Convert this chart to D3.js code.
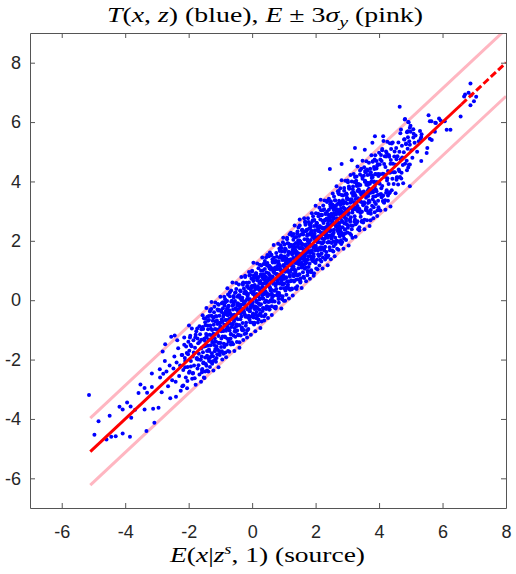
<!DOCTYPE html>
<html><head><meta charset="utf-8">
<script src="https://cdn.jsdelivr.net/npm/d3@7"></script>
<style>body{margin:0;background:#fff;} svg{display:block;}</style>
</head><body>
<script>
// ---- data ----
const xTicks = [-6,-4,-2,0,2,4,6,8];
const yTicks = [-6,-4,-2,0,2,4,6,8];
const xDomain = [-7, 8];
const yDomain = [-7, 9];
const meanLineX = [-5.1, 6.6, 8];      // solid to 6.6, dashed after
const band = 1.13;                      // 3 sigma_y
const bandLineX = [-5.1, 8];

const leftTail = [[-5.14,-3.19],[-4.84,-4.08],[-4.97,-4.53],[-4.49,-3.89],[-4.59,-4.69],[-4.44,-4.6],[-4.3,-4.58],[-4.08,-4.49],[-3.85,-4.6],[-4.18,-3.59],[-4.08,-3.68],[-3.94,-3.45],[-3.83,-3.58],[-3.81,-3.96],[-3.69,-3.69],[-3.33,-4.41],[-3.08,-4.13],[-3.58,-3.13],[-3.52,-2.84],[-3.39,-2.96],[-3.31,-3.12],[-3.39,-3.68],[-3.16,-2.92],[-3.16,-2.47],[-3.12,-3.66],[-2.95,-3.62],[-2.91,-2.33],[-2.8,-2.48],[-2.74,-1.48],[-2.82,-1.73],[-2.4,-3.25],[-2.55,-1.23],[-2.44,-1.19],[-2.9,-2.6],[-2.85,-3.1],[-2.7,-2.4],[-2.65,-2.9],[-2.6,-2.2],[-2.58,-3.3],[-2.52,-2.7],[-2.75,-2.05]];

const stripA = [[-2.48,-2.3],[-2.45,-1.9],[-2.41,-2.75],[-2.38,-2.1],[-2.33,-1.62],[-2.3,-2.55],[-2.27,-2.2],[-2.22,-1.85],[-2.2,-2.9],[-2.17,-2.35],[-2.14,-1.5],[-2.11,-2.05],[-2.09,-2.6],[-2.06,-1.78],[-2.03,-2.25],[-2.01,-1.4],[-2.36,-1.35],[-2.25,-3.05],[-2.12,-1.95],[-2.04,-2.72]];

const stripB = [[-1.98,-1.7],[-1.97,-2.4],[-1.95,-1.2],[-1.93,-2.05],[-1.91,-1.55],[-1.89,-2.65],[-1.87,-1.9],[-1.85,-1.35],[-1.83,-2.2],[-1.8,-1.6],[-1.78,-2.85],[-1.76,-1.05],[-1.74,-1.95],[-1.72,-2.3],[-1.7,-1.45],[-1.68,-1.8],[-1.66,-2.5],[-1.64,-1.15],[-1.62,-2.0],[-1.6,-1.62],[-1.58,-2.35],[-1.56,-0.9],[-1.55,-1.75],[-1.53,-2.1],[-1.51,-1.3],[-1.94,-1.5],[-1.86,-2.45],[-1.79,-1.25],[-1.71,-2.0],[-1.65,-1.4],[-1.59,-1.9],[-1.52,-2.6],[-1.99,-0.85],[-1.73,-0.95],[-1.61,-2.75]];

const stripC = [[-1.49,-1.37],[-1.48,-1.93],[-1.47,-0.84],[-1.46,-1.54],[-1.45,-1.14],[-1.44,-2.21],[-1.43,-1.21],[-1.42,-1.71],[-1.41,-0.56],[-1.4,-1.53],[-1.39,-0.98],[-1.38,-1.96],[-1.37,-1.32],[-1.36,-0.67],[-1.35,-1.71],[-1.34,-1.16],[-1.33,-2.25],[-1.32,-0.85],[-1.31,-1.52],[-1.3,-0.96],[-1.29,-1.33],[-1.28,-0.52],[-1.27,-1.79],[-1.26,-1.0],[-1.25,-1.42],[-1.24,-0.69],[-1.23,-1.89],[-1.22,-1.13],[-1.21,-0.83],[-1.2,-1.51],[-1.19,-0.22],[-1.18,-1.28],[-1.17,-0.97],[-1.16,-1.64],[-1.15,-0.54],[-1.14,-1.39],[-1.13,-0.99],[-1.12,-1.95],[-1.11,-0.68],[-1.1,-1.12],[-1.09,-0.8],[-1.08,-1.68],[-1.07,-0.35],[-1.06,-1.21],[-1.05,-0.98],[-1.04,-1.43],[-1.03,-0.52],[-1.02,-1.72],[-1.01,-0.77],[-1.475,-0.62],[-1.355,-2.05],[-1.285,-0.3],[-1.165,-2.0],[-1.055,-0.15],[-1.125,-1.55]];

const core0 = [[-1.0,-0.88],[-0.99,-1.44],[-0.98,-0.35],[-0.97,-1.05],[-0.96,-0.65],[-0.95,-1.72],[-0.94,-0.72],[-0.93,-1.22],[-0.92,-0.07],[-0.91,-1.04],[-0.9,-0.49],[-0.89,-1.47],[-0.88,-0.83],[-0.87,-0.18],[-0.86,-1.22],[-0.85,-0.67],[-0.84,-1.76],[-0.83,-0.36],[-0.82,-1.03],[-0.81,-0.47],[-0.8,-0.84],[-0.79,-0.03],[-0.78,-1.3],[-0.77,-0.51],[-0.76,-0.93],[-0.75,-0.2],[-0.74,-1.4],[-0.73,-0.64],[-0.72,-0.34],[-0.71,-1.02],[-0.7,0.27],[-0.69,-0.79],[-0.68,-0.48],[-0.67,-1.15],[-0.66,-0.05],[-0.65,-0.9],[-0.64,-0.5],[-0.63,-1.46],[-0.62,-0.19],[-0.61,-0.63],[-0.6,-0.31],[-0.59,-1.19],[-0.58,0.14],[-0.57,-0.72],[-0.56,-0.49],[-0.55,-0.94],[-0.54,-0.03],[-0.53,-1.23],[-0.52,-0.28],[-0.51,-0.57],[-0.5,0.38],[-0.49,-0.82],[-0.48,-0.32],[-0.47,-1.02],[-0.46,-0.1],[-0.45,-0.64],[-0.44,-0.4],[-0.43,0.16],[-0.42,-0.84],[-0.41,-0.14],[-0.4,-1.42],[-0.39,-0.28],[-0.38,0.07],[-0.37,-0.64],[-0.36,0.3],[-0.35,-0.44],[-0.34,-0.15],[-0.33,-0.97],[-0.32,0.01],[-0.31,-0.3],[-0.3,-0.77],[-0.29,0.52],[-0.28,-0.4],[-0.27,-0.04],[-0.26,-1.0],[-0.25,0.23],[-0.24,-0.47],[-0.23,-0.15],[-0.22,0.82],[-0.21,-0.56],[-0.2,-0.03],[-0.19,-0.76],[-0.18,0.21],[-0.17,-0.22],[-0.16,0.46],[-0.15,-1.01],[-0.14,0.14],[-0.13,-0.31],[-0.12,0.41],[-0.11,-0.52],[-0.1,0.03],[-0.09,0.83],[-0.08,-0.36],[-0.07,-0.01],[-0.06,-0.74],[-0.05,0.37],[-0.04,-0.15],[-0.03,0.27],[-0.02,-0.55],[-0.01,0.73]];

const core1 = [[0.0,0.97],[0.01,-0.09],[0.02,0.22],[0.03,-0.45],[0.04,0.65],[0.05,-0.2],[0.06,0.2],[0.07,-0.76],[0.08,0.51],[0.09,0.07],[0.1,0.39],[0.11,-0.49],[0.12,0.84],[0.13,-0.02],[0.14,0.21],[0.15,-0.24],[0.16,0.67],[0.17,-0.53],[0.18,0.42],[0.19,0.13],[0.2,1.08],[0.21,-0.12],[0.22,0.38],[0.23,-0.32],[0.24,0.6],[0.25,0.06],[0.26,0.3],[0.27,0.86],[0.28,-0.14],[0.29,0.56],[0.3,-0.72],[0.31,0.42],[0.32,0.77],[0.33,0.06],[0.34,1.0],[0.35,0.26],[0.36,0.55],[0.37,-0.27],[0.38,0.71],[0.39,0.4],[0.4,-0.07],[0.41,1.22],[0.42,0.3],[0.43,0.66],[0.44,-0.3],[0.45,0.93],[0.46,0.23],[0.47,0.55],[0.48,1.52],[0.49,0.14],[0.5,0.67],[0.51,-0.06],[0.52,0.91],[0.53,0.48],[0.54,1.16],[0.55,-0.31],[0.56,0.84],[0.57,0.39],[0.58,1.11],[0.59,0.18],[0.6,0.73],[0.61,1.53],[0.62,0.34],[0.63,0.69],[0.64,-0.04],[0.65,1.07],[0.66,0.55],[0.67,0.97],[0.68,0.15],[0.69,1.43],[0.7,0.69],[0.71,0.92],[0.72,-0.23],[0.73,1.1],[0.74,0.54],[0.75,1.32],[0.76,0.38],[0.77,0.87],[0.78,1.46],[0.79,0.17],[0.8,1.05],[0.81,0.67],[0.82,1.28],[0.83,0.04],[0.84,0.86],[0.85,1.2],[0.86,0.56],[0.87,1.66],[0.88,0.81],[0.89,1.04],[0.9,0.4],[0.91,1.51],[0.92,0.7],[0.93,0.96],[0.94,0.05],[0.95,1.35],[0.96,0.8],[0.97,1.95],[0.98,0.54],[0.99,1.18]];

const core1b = [[0.0,-0.12],[0.03,0.48],[0.05,-0.58],[0.08,0.16],[0.1,-0.21],[0.13,0.9],[0.15,-0.07],[0.18,0.47],[0.2,-0.65],[0.23,0.36],[0.25,-0.16],[0.28,0.86],[0.3,0.25],[0.33,-0.36],[0.35,0.71],[0.38,0.2],[0.4,1.32],[0.43,-0.04],[0.45,0.66],[0.48,0.14],[0.5,0.54],[0.53,-0.23],[0.55,1.07],[0.58,0.32],[0.6,0.77],[0.63,0.08],[0.65,1.31],[0.68,0.59],[0.7,0.32],[0.73,1.04],[0.75,-0.22],[0.78,0.88],[0.8,0.6],[0.83,1.31],[0.85,0.24],[0.88,1.13],[0.9,0.76],[0.93,1.76],[0.95,0.52],[0.98,1.0]];

const core2 = [[1.0,-0.02],[1.01,1.12],[1.02,1.47],[1.03,0.76],[1.04,1.7],[1.05,0.96],[1.06,1.25],[1.07,0.43],[1.08,1.41],[1.09,1.1],[1.1,0.63],[1.11,1.92],[1.12,1.0],[1.13,1.36],[1.14,0.4],[1.15,1.63],[1.16,0.93],[1.17,1.25],[1.18,2.22],[1.19,0.84],[1.2,1.37],[1.21,0.64],[1.22,1.61],[1.23,1.18],[1.24,1.86],[1.25,0.39],[1.26,1.54],[1.27,1.09],[1.28,1.81],[1.29,0.88],[1.3,1.43],[1.31,2.23],[1.32,1.04],[1.33,1.39],[1.34,0.66],[1.35,1.77],[1.36,1.25],[1.37,1.67],[1.38,0.85],[1.39,2.13],[1.4,1.39],[1.41,1.62],[1.42,0.47],[1.43,1.8],[1.44,1.24],[1.45,2.02],[1.46,1.08],[1.47,1.57],[1.48,2.16],[1.49,0.87],[1.5,1.75],[1.51,1.37],[1.52,1.98],[1.53,0.74],[1.54,1.56],[1.55,1.9],[1.56,1.26],[1.57,2.36],[1.58,1.51],[1.59,1.74],[1.6,1.1],[1.61,2.21],[1.62,1.4],[1.63,1.66],[1.64,0.75],[1.65,2.05],[1.66,1.5],[1.67,2.65],[1.68,1.24],[1.69,1.88],[1.7,1.82],[1.71,1.26],[1.72,2.35],[1.73,1.65],[1.74,2.05],[1.75,0.98],[1.76,1.98],[1.77,1.48],[1.78,2.63],[1.79,1.66],[1.8,2.21],[1.81,1.23],[1.82,1.87],[1.83,2.52],[1.84,1.48],[1.85,2.03],[1.86,0.94],[1.87,2.34],[1.88,1.67],[1.89,2.23],[1.9,1.86],[1.91,2.67],[1.92,1.4],[1.93,2.19],[1.94,1.77],[1.95,2.5],[1.96,1.3],[1.97,2.06],[1.98,2.36],[1.99,1.68]];

const core2b = [[1.0,0.71],[1.03,1.63],[1.05,0.33],[1.08,1.23],[1.1,1.03],[1.13,1.52],[1.15,0.64],[1.18,1.88],[1.2,0.96],[1.23,1.29],[1.25,0.37],[1.28,1.61],[1.3,1.14],[1.33,1.88],[1.35,0.99],[1.38,1.57],[1.4,1.36],[1.43,0.84],[1.45,1.87],[1.48,1.21],[1.5,2.52],[1.53,1.42],[1.55,1.1],[1.58,1.85],[1.6,0.94],[1.63,1.72],[1.65,1.46],[1.68,2.32],[1.7,1.37],[1.73,1.72],[1.75,2.22],[1.78,0.97],[1.8,1.92],[1.83,1.6],[1.85,2.59],[1.88,1.4],[1.9,2.13],[1.93,1.85],[1.95,0.91],[1.98,2.33]];

const core3 = [[2.0,2.13],[2.01,2.93],[2.02,1.74],[2.03,2.09],[2.04,1.36],[2.05,2.47],[2.06,1.95],[2.07,2.37],[2.08,1.55],[2.09,2.83],[2.1,2.09],[2.11,2.32],[2.12,1.17],[2.13,2.5],[2.14,1.94],[2.15,2.72],[2.16,1.78],[2.17,2.27],[2.18,2.86],[2.19,1.57],[2.2,2.45],[2.21,2.07],[2.22,2.68],[2.23,1.44],[2.24,2.26],[2.25,2.6],[2.26,1.96],[2.27,3.06],[2.28,2.21],[2.29,2.44],[2.3,1.8],[2.31,2.91],[2.32,2.1],[2.33,2.36],[2.34,1.45],[2.35,2.75],[2.36,2.2],[2.37,3.35],[2.38,1.94],[2.39,2.58],[2.4,2.52],[2.41,1.96],[2.42,3.05],[2.43,2.35],[2.44,2.75],[2.45,1.68],[2.46,2.68],[2.47,2.18],[2.48,3.33],[2.49,2.36],[2.5,2.91],[2.51,1.93],[2.52,2.57],[2.53,3.22],[2.54,2.18],[2.55,2.73],[2.56,1.64],[2.57,3.04],[2.58,2.37],[2.59,2.93],[2.6,2.56],[2.61,3.37],[2.62,2.1],[2.63,2.89],[2.64,2.47],[2.65,3.2],[2.66,2.0],[2.67,2.76],[2.68,3.06],[2.69,2.38],[2.7,3.67],[2.71,2.61],[2.72,2.92],[2.73,2.25],[2.74,3.35],[2.75,2.5],[2.76,2.9],[2.77,1.94],[2.78,3.21],[2.79,2.77],[2.8,3.09],[2.81,2.21],[2.82,3.54],[2.83,2.68],[2.84,2.91],[2.85,2.46],[2.86,3.37],[2.87,2.17],[2.88,3.12],[2.89,2.83],[2.9,3.78],[2.91,2.58],[2.92,3.08],[2.93,2.38],[2.94,3.3],[2.95,2.76],[2.96,3.0],[2.97,3.56],[2.98,2.56],[2.99,3.26]];

const core3b = [[2.0,1.83],[2.03,2.6],[2.07,1.68],[2.1,2.15],[2.13,1.51],[2.17,3.03],[2.2,1.92],[2.23,2.41],[2.27,1.74],[2.3,2.71],[2.33,2.2],[2.37,1.45],[2.4,2.68],[2.43,2.37],[2.47,3.15],[2.5,2.08],[2.53,2.64],[2.57,2.27],[2.6,3.13],[2.63,1.89],[2.67,2.68],[2.7,2.49],[2.73,3.68],[2.77,2.4],[2.8,3.0],[2.83,2.26],[2.87,3.25],[2.9,2.8],[2.93,2.25],[2.97,3.59]];

const core4a = [[3.0,3.41],[3.02,2.44],[3.04,3.09],[3.06,3.75],[3.08,2.72],[3.1,3.28],[3.12,2.2],[3.14,3.61],[3.16,2.95],[3.18,3.52],[3.2,3.16],[3.22,3.98],[3.24,2.72],[3.26,3.52],[3.28,3.11],[3.3,3.85],[3.32,2.66],[3.34,3.43],[3.36,3.74],[3.38,3.07],[3.4,4.37],[3.42,3.32],[3.44,3.64],[3.46,2.98],[3.48,4.09],[3.5,3.25],[3.52,3.66],[3.54,2.71],[3.56,3.99],[3.58,3.56],[3.6,3.89],[3.62,3.02],[3.64,4.36],[3.66,3.51],[3.68,3.75],[3.7,3.31],[3.72,4.23],[3.74,3.04],[3.76,4.0],[3.78,3.72],[3.8,4.68],[3.82,3.49],[3.84,4.0],[3.86,3.31],[3.88,4.24],[3.9,3.71],[3.92,3.96],[3.94,4.53],[3.96,3.54],[3.98,4.25]];

const core4b = [[3.01,4.03],[3.05,2.94],[3.09,2.64],[3.13,3.4],[3.17,2.51],[3.21,3.3],[3.25,3.06],[3.29,3.93],[3.33,3.0],[3.37,3.36],[3.41,3.88],[3.45,2.64],[3.49,3.61],[3.53,3.3],[3.57,4.31],[3.61,3.13],[3.65,3.88],[3.69,3.61],[3.73,2.69],[3.77,4.12],[3.81,3.64],[3.85,4.42],[3.89,3.5],[3.93,3.98],[3.97,3.35]];

const core5 = [[4.0,4.97],[4.02,3.92],[4.04,4.24],[4.06,3.58],[4.08,4.69],[4.1,3.85],[4.12,4.26],[4.14,3.31],[4.16,4.59],[4.18,4.16],[4.2,4.49],[4.22,3.62],[4.24,4.96],[4.26,4.11],[4.28,4.35],[4.3,3.91],[4.32,4.83],[4.34,3.64],[4.36,4.6],[4.38,4.32],[4.4,5.28],[4.42,4.09],[4.44,4.6],[4.46,3.91],[4.48,4.84],[4.5,4.31],[4.52,4.56],[4.54,5.13],[4.56,4.14],[4.58,4.85]];

const wideSpread = [[-1.6,-0.98],[-1.58,-2.43],[-1.56,-0.51],[-1.54,-2.12],[-1.52,-0.61],[-1.5,-2.62],[-1.48,-0.74],[-1.46,-2.15],[-1.44,-0.26],[-1.42,-2.37],[-1.4,-0.85],[-1.38,-2.4],[-1.36,-0.53],[-1.34,-1.95],[-1.32,-0.33],[-1.3,-2.08],[-1.28,-0.06],[-1.26,-2.14],[-1.24,-0.57],[-1.22,-2.37],[-1.2,-0.41],[-1.18,-1.72],[-1.16,-0.08],[-1.14,-2.07],[-1.12,-0.54],[-1.1,-1.82],[-1.08,-0.13],[-1.06,-2.26],[-1.04,-0.33],[-1.02,-1.85],[-1.0,0.12],[-0.98,-1.58],[-0.96,-0.1],[-0.94,-2.0],[-0.92,-0.27],[-0.9,-1.8],[-0.88,0.12],[-0.86,-1.52],[-0.84,-0.07],[-0.82,-1.92],
[-0.8,-1.49],[-0.78,0.4],[-0.76,-1.71],[-0.74,-0.19],[-0.72,-1.74],[-0.7,0.13],[-0.68,-1.29],[-0.66,0.33],[-0.64,-1.42],[-0.62,0.6],[-0.6,-1.48],[-0.58,0.09],[-0.56,-1.71],[-0.54,0.25],[-0.52,-1.06],[-0.5,0.58],[-0.48,-1.41],[-0.46,0.12],[-0.44,-1.16],[-0.42,0.53],[-0.4,-1.6],[-0.38,0.33],[-0.36,-1.19],[-0.34,0.78],[-0.32,-0.92],[-0.3,0.56],[-0.28,-1.34],[-0.26,0.39],[-0.24,-1.14],[-0.22,0.78],[-0.2,-0.86],[-0.18,0.59],[-0.16,-1.26],[-0.14,0.48],[-0.12,-0.97],[-0.1,0.95],[-0.08,-0.66],[-0.06,0.85],[-0.04,-1.16],[-0.02,0.72],
[0.0,0.99],[0.02,-0.76],[0.04,1.26],[0.06,-0.82],[0.08,0.75],[0.1,-1.05],[0.12,0.91],[0.14,-0.4],[0.16,1.24],[0.18,-0.75],[0.2,0.78],[0.22,-0.5],[0.24,1.19],[0.26,-0.94],[0.28,0.99],[0.3,-0.53],[0.32,1.44],[0.34,-0.26],[0.36,1.22],[0.38,-0.68],[0.4,1.05],[0.42,-0.48],[0.44,1.44],[0.46,-0.2],[0.48,1.25],[0.5,-0.6],[0.52,1.14],[0.54,-0.31],[0.56,1.61],[0.58,0.0],[0.6,1.51],[0.62,-0.5],[0.64,1.38],[0.66,-0.03],[0.68,1.86],[0.7,-0.25],[0.72,1.27],[0.74,-0.28],[0.76,1.59],[0.78,0.17],
[0.8,0.26],[0.82,1.9],[0.84,-0.09],[0.86,1.44],[0.88,0.16],[0.9,1.85],[0.92,-0.28],[0.94,1.65],[0.96,0.13],[0.98,2.1],[1.0,0.4],[1.02,1.88],[1.04,-0.02],[1.06,1.71],[1.08,0.18],[1.1,2.1],[1.12,0.46],[1.14,1.91],[1.16,0.06],[1.18,1.8],[1.2,0.35],[1.22,2.27],[1.24,0.66],[1.26,2.17],[1.28,0.16],[1.3,2.04],[1.32,0.63],[1.34,2.52],[1.36,0.41],[1.38,1.93],[1.4,0.38],[1.42,2.25],[1.44,0.83],[1.46,2.45],[1.48,0.7],[1.5,2.72],[1.52,0.64],[1.54,2.21],[1.56,0.41],[1.58,2.37],
[1.6,2.31],[1.62,0.79],[1.64,2.76],[1.66,1.06],[1.68,2.54],[1.7,0.64],[1.72,2.37],[1.74,0.84],[1.76,2.76],[1.78,1.12],[1.8,2.57],[1.82,0.72],[1.84,2.46],[1.86,1.01],[1.88,2.93],[1.9,1.32],[1.92,2.83],[1.94,0.82],[1.96,2.7],[1.98,1.29],[2.0,3.18],[2.02,1.07],[2.04,2.59],[2.06,1.04],[2.08,2.91],[2.1,1.49],[2.12,3.11],[2.14,1.36],[2.16,3.38],[2.18,1.3],[2.2,2.87],[2.22,1.07],[2.24,3.03],[2.26,1.72],[2.28,3.36],[2.3,1.37],[2.32,2.9],[2.34,1.62],[2.36,3.31],[2.38,1.18],
[2.4,1.5],[2.42,3.42],[2.44,1.78],[2.46,3.23],[2.48,1.38],[2.5,3.12],[2.52,1.67],[2.54,3.59],[2.56,1.98],[2.58,3.49],[2.6,1.48],[2.62,3.36],[2.64,1.95],[2.66,3.84],[2.68,1.73],[2.7,3.25],[2.72,1.7],[2.74,3.57],[2.76,2.15],[2.78,3.77],[2.8,2.02],[2.82,4.04],[2.84,1.96],[2.86,3.53],[2.88,1.73],[2.9,3.69],[2.92,2.38],[2.94,4.02],[2.96,2.03],[2.98,3.56],[3.0,2.28],[3.02,3.97],[3.04,1.84],[3.06,3.77],[3.08,2.25],[3.1,4.22],[3.12,2.52],[3.14,4.0],[3.16,2.1],[3.18,3.83],
[3.2,4.25],[3.22,2.64],[3.24,4.15],[3.26,2.14],[3.28,4.02],[3.3,2.61],[3.32,4.5],[3.34,2.39],[3.36,3.91],[3.38,2.36],[3.4,4.23],[3.42,2.81],[3.44,4.43],[3.46,2.68],[3.48,4.7],[3.5,2.62],[3.52,4.19],[3.54,2.39],[3.56,4.35],[3.58,3.04],[3.6,4.68],[3.62,2.69],[3.64,4.22],[3.66,2.94],[3.68,4.63],[3.7,2.5],[3.72,4.43],[3.74,2.91],[3.76,4.88],[3.78,3.18],[3.8,4.66],[3.82,2.76],[3.84,4.49],[3.86,2.96],[3.88,4.88],[3.9,3.24],[3.92,4.69],[3.94,2.84],[3.96,4.58],[3.98,3.13],
[4.0,3.05],[4.02,4.57],[4.04,3.02],[4.06,4.89],[4.08,3.47],[4.1,5.09],[4.12,3.34],[4.14,5.36],[4.16,3.28],[4.18,4.85],[4.2,3.05],[4.22,5.01],[4.24,3.7],[4.26,5.34],[4.28,3.35],[4.3,4.88],[4.32,3.6],[4.34,5.29],[4.36,3.16],[4.38,5.09]];

const midSpread = [[-1.0,-0.95],[-0.97,-1.29],[-0.94,-0.73],[-0.91,-1.03],[-0.88,-0.44],[-0.85,-1.25],[-0.82,-0.67],[-0.79,-0.81],[-0.76,-0.4],[-0.73,-0.98],[-0.7,-0.42],[-0.67,-1.14],[-0.64,-0.54],[-0.61,-0.79],[-0.58,-0.09],[-0.55,-0.63],[-0.52,-0.28],[-0.49,-0.85],[-0.46,-0.15],[-0.43,-0.43],[-0.4,-0.84],[-0.37,-0.19],[-0.34,-0.55],[-0.31,0.08],[-0.28,-0.33],[-0.25,-0.12],[-0.22,-0.51],[-0.19,0.27],[-0.16,-0.3],[-0.13,0.21],
[-0.1,-0.57],[-0.07,0.03],[-0.04,-0.22],[-0.01,0.48],[0.02,-0.06],[0.05,0.29],[0.08,-0.28],[0.11,0.42],[0.14,0.14],[0.17,-0.27],[0.2,0.38],[0.23,0.02],[0.26,0.65],[0.29,0.24],[0.32,0.45],[0.35,0.06],[0.38,0.84],[0.41,0.27],[0.44,0.78],[0.47,0.52],[0.5,0.18],[0.53,0.74],[0.56,0.44],[0.59,1.03],[0.62,0.22],[0.65,0.8],[0.68,0.66],[0.71,1.07],[0.74,0.49],[0.77,1.05],
[0.8,0.59],[0.83,1.22],[0.86,0.81],[0.89,1.02],[0.92,0.63],[0.95,1.41],[0.98,0.84],[1.01,1.35],[1.04,1.09],[1.07,0.75],[1.1,1.31],[1.13,1.01],[1.16,1.6],[1.19,0.79],[1.22,1.37],[1.25,1.23],[1.28,1.64],[1.31,1.06],[1.34,1.62],[1.37,0.9],[1.4,1.5],[1.43,1.25],[1.46,1.95],[1.49,1.41],[1.52,1.76],[1.55,1.19],[1.58,1.89],[1.61,1.61],[1.64,1.2],[1.67,1.85],
[1.7,1.58],[1.73,2.17],[1.76,1.36],[1.79,1.94],[1.82,1.8],[1.85,2.21],[1.88,1.63],[1.91,2.19],[1.94,1.47],[1.97,2.07],[2.0,1.82],[2.03,2.52],[2.06,1.98],[2.09,2.33],[2.12,1.76],[2.15,2.46],[2.18,2.18],[2.21,1.77],[2.24,2.42],[2.27,2.06],[2.3,2.69],[2.33,2.28],[2.36,2.49],[2.39,2.1],[2.42,2.88],[2.45,2.31],[2.48,2.82],[2.51,2.56],[2.54,2.22],[2.57,2.78],
[2.6,3.09],[2.63,2.55],[2.66,2.9],[2.69,2.33],[2.72,3.03],[2.75,2.75],[2.78,2.34],[2.81,2.99],[2.84,2.63],[2.87,3.26],[2.9,2.85],[2.93,3.06],[2.96,2.67],[2.99,3.45],[3.02,2.88],[3.05,3.39],[3.08,3.13],[3.11,2.79],[3.14,3.35],[3.17,3.05],[3.2,3.64],[3.23,2.83],[3.26,3.41],[3.29,3.27],[3.32,3.68],[3.35,3.1],[3.38,3.66],[3.41,2.94],[3.44,3.54],[3.47,3.29],
[3.5,3.63],[3.53,3.24],[3.56,4.02],[3.59,3.45],[3.62,3.96],[3.65,3.7],[3.68,3.36],[3.71,3.92],[3.74,3.62],[3.77,4.21],[3.8,3.4],[3.83,3.98],[3.86,3.84],[3.89,4.25],[3.92,3.67],[3.95,4.23]];

const extraSpread = [[-2.2,-1.85],[-2.17,-2.87],[-2.14,-1.26],[-2.11,-2.26],[-2.08,-1.56],[-2.05,-2.97],[-2.02,-1.82],[-1.99,-2.44],[-1.96,-1.26],[-1.93,-2.23],[-1.9,-0.95],[-1.87,-2.47],[-1.84,-1.76],[-1.81,-2.63],[-1.78,-1.16],[-1.75,-1.97],[-1.72,-1.29],[-1.69,-2.19],[-1.66,-0.88],[-1.63,-2.01],[-1.6,-1.33],[-1.57,-2.32],[-1.54,-0.97],[-1.51,-1.56],
[-1.48,-2.4],[-1.45,-1.25],[-1.42,-1.87],[-1.39,-0.69],[-1.36,-1.66],[-1.33,-0.38],[-1.3,-1.9],[-1.27,-1.19],[-1.24,-2.06],[-1.21,-0.59],[-1.18,-1.4],[-1.15,-0.72],[-1.12,-1.62],[-1.09,-0.31],[-1.06,-1.44],[-1.03,-0.76],[-1.0,-1.75],[-0.97,-0.4],[-0.94,-0.99],[-0.91,-0.56],[-0.88,-1.58],[-0.85,0.03],[-0.82,-0.97],[-0.79,-0.27],
[-0.76,0.19],[-0.73,-1.33],[-0.7,-0.62],[-0.67,-1.49],[-0.64,-0.02],[-0.61,-0.83],[-0.58,-0.15],[-0.55,-1.05],[-0.52,0.26],[-0.49,-0.87],[-0.46,-0.19],[-0.43,-1.18],[-0.4,0.17],[-0.37,-0.42],[-0.34,0.01],[-0.31,-1.01],[-0.28,0.6],[-0.25,-0.4],[-0.22,0.3],[-0.19,-1.11],[-0.16,0.04],[-0.13,-0.58],[-0.1,0.6],[-0.07,-0.37],
[-0.04,-0.26],[-0.01,0.42],[0.02,-0.48],[0.05,0.83],[0.08,-0.3],[0.11,0.38],[0.14,-0.61],[0.17,0.74],[0.2,0.15],[0.23,0.58],[0.26,-0.44],[0.29,1.17],[0.32,0.17],[0.35,0.87],[0.38,-0.54],[0.41,0.61],[0.44,-0.01],[0.47,1.17],[0.5,0.2],[0.53,1.48],[0.56,-0.04],[0.59,0.67],[0.62,-0.2],[0.65,1.27],
[0.68,0.95],[0.71,-0.04],[0.74,1.31],[0.77,0.72],[0.8,1.15],[0.83,0.13],[0.86,1.74],[0.89,0.74],[0.92,1.44],[0.95,0.03],[0.98,1.18],[1.01,0.56],[1.04,1.74],[1.07,0.77],[1.1,2.05],[1.13,0.53],[1.16,1.24],[1.19,0.37],[1.22,1.84],[1.25,1.03],[1.28,1.71],[1.31,0.81],[1.34,2.12],[1.37,0.99],
[1.4,0.7],[1.43,2.31],[1.46,1.31],[1.49,2.01],[1.52,0.6],[1.55,1.75],[1.58,1.13],[1.61,2.31],[1.64,1.34],[1.67,2.62],[1.7,1.1],[1.73,1.81],[1.76,0.94],[1.79,2.41],[1.82,1.6],[1.85,2.28],[1.88,1.38],[1.91,2.69],[1.94,1.56],[1.97,2.24],[2.0,1.25],[2.03,2.6],[2.06,2.01],[2.09,2.44],
[2.12,2.32],[2.15,1.7],[2.18,2.88],[2.21,1.91],[2.24,3.19],[2.27,1.67],[2.3,2.38],[2.33,1.51],[2.36,2.98],[2.39,2.17],[2.42,2.85],[2.45,1.95],[2.48,3.26],[2.51,2.13],[2.54,2.81],[2.57,1.82],[2.6,3.17],[2.63,2.58],[2.66,3.01],[2.69,1.99],[2.72,3.6],[2.75,2.6],[2.78,3.3],[2.81,1.89],
[2.84,2.24],[2.87,2.95],[2.9,2.08],[2.93,3.55],[2.96,2.74],[2.99,3.42],[3.02,2.52],[3.05,3.83],[3.08,2.7],[3.11,3.38],[3.14,2.39],[3.17,3.74],[3.2,3.15],[3.23,3.58],[3.26,2.56],[3.29,4.17],[3.32,3.17],[3.35,3.87],[3.38,2.46],[3.41,3.61],[3.44,2.99],[3.47,4.17],[3.5,3.2],[3.53,4.48],
[3.56,3.99],[3.59,3.09],[3.62,4.4],[3.65,3.27],[3.68,3.95],[3.71,2.96],[3.74,4.31],[3.77,3.72],[3.8,4.15],[3.83,3.13],[3.86,4.74],[3.89,3.74],[3.92,4.44],[3.95,3.03],[3.98,4.18],[4.01,3.56],[4.04,4.74],[4.07,3.77],[4.1,5.05],[4.13,3.53],[4.16,4.24],[4.19,3.37],[4.22,4.84],[4.25,4.03],
[4.28,3.53],[4.31,4.88],[4.34,4.29],[4.37,4.72],[4.4,3.7],[4.43,5.31],[4.46,4.31],[4.49,5.01],[4.52,3.6],[4.55,4.75],[4.58,4.13],[4.61,5.31],[4.64,4.34],[4.67,5.62],[4.7,4.1],[4.73,4.81],[4.76,3.94],[4.79,5.41],[4.82,4.6],[4.85,5.28],[4.88,4.38],[4.91,5.69],[4.94,4.56],[4.97,5.24]];

const upperTail = [[4.65,6.52],[4.81,6.09],[4.92,6.0],[4.97,5.81],[5.08,5.76],[4.99,5.67],[4.89,5.67],[5.29,5.7],[5.34,5.59],[5.31,5.44],[5.6,5.44],[5.66,5.4],[5.08,5.48],[4.91,5.49],[4.8,5.42],[5.56,6.23],[5.65,6.03],[5.77,5.98],[5.89,6.12],[5.94,6.05],[6.07,6.03],[6.13,5.74],[6.25,5.74],[5.76,5.67],[6.88,7.3],[6.71,6.93],[6.68,6.86],[6.82,6.99],[6.9,6.9],[7.06,6.85],[6.99,6.7],[6.88,6.57],[6.57,6.19],[4.93,5.99],[4.69,5.75],[4.82,6.1],[4.99,5.88],[4.88,5.66],[5.09,5.61],[5.33,5.5],[5.6,6.03],[5.79,5.97],[5.52,5.13],[5.33,4.69],[5.5,4.96],[4.97,4.57],[4.92,4.47],[4.97,3.84],[4.71,4.29],[4.55,4.06],[4.13,5.52],[3.87,5.52],[3.79,5.3],[3.24,5.13],[3.55,5.07],[2.82,4.59],[3.14,4.71],[2.45,4.42],[4.62,4.4],[4.64,5.0],[4.68,4.75],[4.72,5.2],[4.75,4.55],[4.78,4.98],[4.85,5.25],[4.87,4.7],[4.9,5.1],[4.95,5.35],[5.02,5.05],[5.05,4.8],[5.12,5.3],[5.15,5.55],[5.2,5.0],[5.25,5.35],[4.6,3.9],[4.66,4.15]];

// ---- drawing ----
const W = 516, H = 574;
const svg = d3.select("body").append("svg").attr("width", W).attr("height", H);
const x = d3.scaleLinear().domain(xDomain).range([30, 506]);
const y = d3.scaleLinear().domain(yDomain).range([508, 33]);

svg.append("clipPath").attr("id","clip").append("rect")
  .attr("x",30).attr("y",33).attr("width",476).attr("height",475);
const plot = svg.append("g").attr("clip-path","url(#clip)");

const line = d3.line().x(d => x(d[0])).y(d => y(d[1]));

// pink band lines
[band, -band].forEach(off => {
  plot.append("path")
    .datum(bandLineX.map(v => [v, v + off]))
    .attr("d", line).attr("fill","none")
    .attr("stroke","#ffb6c1").attr("stroke-width",3);
});

// points
const allPts = [].concat(leftTail, stripA, stripB, stripC, core0, core1, core1b, core2, core2b,
  core3, core3b, core4a, core4b, core5, wideSpread, midSpread, extraSpread, upperTail);
plot.append("g").selectAll("circle").data(allPts).join("circle")
  .attr("cx", d => x(d[0])).attr("cy", d => y(d[1])).attr("r", 2)
  .attr("fill","#0000ff");

// red mean line
plot.append("path").datum([[meanLineX[0],meanLineX[0]],[meanLineX[1],meanLineX[1]]])
  .attr("d", line).attr("fill","none").attr("stroke","#ff0000").attr("stroke-width",3);
plot.append("path").datum([[meanLineX[1],meanLineX[1]],[meanLineX[2],meanLineX[2]]])
  .attr("d", line).attr("fill","none").attr("stroke","#ff0000").attr("stroke-width",3)
  .attr("stroke-dasharray","7,3");

// axes
const axColor = "#555";
const fmt = d => String(d);
const gx = svg.append("g").attr("transform","translate(0,508)")
  .call(d3.axisBottom(x).tickValues(xTicks).tickFormat(fmt).tickSizeInner(-5).tickSizeOuter(0).tickPadding(17));
const gy = svg.append("g").attr("transform","translate(30,0)")
  .call(d3.axisLeft(y).tickValues(yTicks).tickFormat(fmt).tickSizeInner(-5).tickSizeOuter(0).tickPadding(9));
const gt = svg.append("g").attr("transform","translate(0,33)")
  .call(d3.axisTop(x).tickValues(xTicks).tickSizeInner(-5).tickSizeOuter(0).tickFormat(""));
const gr = svg.append("g").attr("transform","translate(506,0)")
  .call(d3.axisRight(y).tickValues(yTicks).tickSizeInner(-5).tickSizeOuter(0).tickFormat(""));
[gx,gy,gt,gr].forEach(g => {
  g.select(".domain").attr("stroke", axColor);
  g.selectAll(".tick line").attr("stroke", axColor);
  g.selectAll("text").attr("fill","#262626")
    .style("font-family","'Liberation Sans', Arial, sans-serif").style("font-size","18px");
});

// title
const serif = "'Liberation Serif', 'DejaVu Serif', serif";
const title = svg.append("text").attr("x", 107).attr("y", 22)
  .attr("textLength", 316).attr("lengthAdjust","spacingAndGlyphs")
  .style("font-family", serif).style("font-size","21px").attr("fill","#000");
const tparts = [["T",1],["(",0],["x",1],[", ",0],["z",1],[")  (blue),  ",0],["E",1],[" ± 3",0],["σ",1]];
tparts.forEach(p => title.append("tspan").text(p[0]).style("font-style", p[1] ? "italic" : "normal"));
title.append("tspan").text("y").style("font-style","italic").style("font-size","15px").attr("dy", 5);
title.append("tspan").text("  (pink)").attr("dy", -5);

// x label
const xl = svg.append("text").attr("x", 170).attr("y", 562)
  .attr("textLength", 195).attr("lengthAdjust","spacingAndGlyphs")
  .style("font-family", serif).style("font-size","21px").attr("fill","#000");
[["E",1],["(",0],["x",1],["|",0],["z",1]].forEach(p => xl.append("tspan").text(p[0]).style("font-style", p[1] ? "italic" : "normal"));
xl.append("tspan").text("s").style("font-style","italic").style("font-size","14px").attr("dy",-8);
xl.append("tspan").text(", 1)  (source)").attr("dy",8);
</script>
</body></html>
